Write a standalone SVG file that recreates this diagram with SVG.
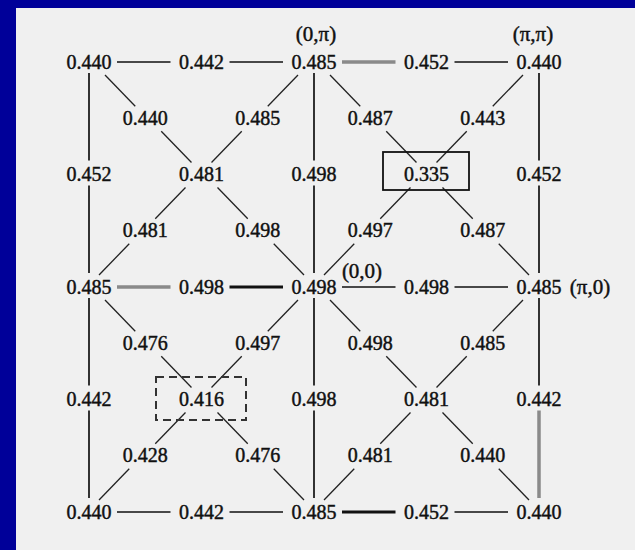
<svg xmlns="http://www.w3.org/2000/svg" width="635" height="550" viewBox="0 0 635 550">
<style>
.n{font-family:"Liberation Serif","Times New Roman",serif;font-size:20px;fill:#111;stroke:#111;stroke-width:0.45;text-anchor:middle}
.lb{font-family:"Liberation Serif","Times New Roman",serif;font-size:21px;fill:#111;stroke:#111;stroke-width:0.45;text-anchor:middle}
.e{stroke:#111;stroke-width:1.7;fill:none}
.g{stroke:#8a8a8a;stroke-width:3.5;fill:none}
.k{stroke:#111;stroke-width:3;fill:none}
.d{stroke:#222;stroke-width:1.3;fill:none}
</style>
<rect x="0" y="0" width="635" height="550" fill="#000099"/>
<rect x="16" y="8" width="619" height="542" fill="#f0f0f0"/>
<g id="connectors">
<line class="e" x1="117" y1="62" x2="170.5" y2="62"/>
<line class="e" x1="229.5" y1="62" x2="283" y2="62"/>
<line class="g" x1="342" y1="62" x2="395.5" y2="62"/>
<line class="e" x1="454.5" y1="62" x2="508" y2="62"/>
<line class="g" x1="117" y1="287" x2="170.5" y2="287"/>
<line class="k" x1="229.5" y1="287" x2="283" y2="287"/>
<line class="e" x1="342" y1="287" x2="395.5" y2="287"/>
<line class="e" x1="454.5" y1="287" x2="508" y2="287"/>
<line class="e" x1="117" y1="512" x2="170.5" y2="512"/>
<line class="e" x1="229.5" y1="512" x2="283" y2="512"/>
<line class="k" x1="342" y1="512" x2="395.5" y2="512"/>
<line class="e" x1="454.5" y1="512" x2="508" y2="512"/>
<line class="e" x1="89" y1="73" x2="89" y2="160.5"/>
<line class="e" x1="89" y1="185.5" x2="89" y2="273"/>
<line class="e" x1="89" y1="298" x2="89" y2="385.5"/>
<line class="e" x1="89" y1="410.5" x2="89" y2="498"/>
<line class="e" x1="314" y1="73" x2="314" y2="160.5"/>
<line class="e" x1="314" y1="185.5" x2="314" y2="273"/>
<line class="e" x1="314" y1="298" x2="314" y2="385.5"/>
<line class="e" x1="314" y1="410.5" x2="314" y2="498"/>
<line class="e" x1="539" y1="73" x2="539" y2="160.5"/>
<line class="e" x1="539" y1="185.5" x2="539" y2="273"/>
<line class="e" x1="539" y1="298" x2="539" y2="385.5"/>
<line class="g" x1="539" y1="410.5" x2="539" y2="498"/>
<line class="d" x1="105" y1="75" x2="135.25" y2="106.25"/>
<line class="d" x1="161.25" y1="131.25" x2="191.5" y2="162.5"/>
<line class="d" x1="217.5" y1="187.5" x2="247.75" y2="218.75"/>
<line class="d" x1="273.75" y1="243.75" x2="304" y2="275"/>
<line class="d" x1="298" y1="75" x2="267.75" y2="106.25"/>
<line class="d" x1="241.75" y1="131.25" x2="211.5" y2="162.5"/>
<line class="d" x1="185.5" y1="187.5" x2="155.25" y2="218.75"/>
<line class="d" x1="129.25" y1="243.75" x2="99" y2="275"/>
<line class="d" x1="330" y1="75" x2="360.25" y2="106.25"/>
<line class="d" x1="386.25" y1="131.25" x2="416.5" y2="162.5"/>
<line class="d" x1="442.5" y1="187.5" x2="472.75" y2="218.75"/>
<line class="d" x1="498.75" y1="243.75" x2="529" y2="275"/>
<line class="d" x1="523" y1="75" x2="492.75" y2="106.25"/>
<line class="d" x1="466.75" y1="131.25" x2="436.5" y2="162.5"/>
<line class="d" x1="410.5" y1="187.5" x2="380.25" y2="218.75"/>
<line class="d" x1="354.25" y1="243.75" x2="324" y2="275"/>
<line class="d" x1="105" y1="300" x2="135.25" y2="331.25"/>
<line class="d" x1="161.25" y1="356.25" x2="191.5" y2="387.5"/>
<line class="d" x1="217.5" y1="412.5" x2="247.75" y2="443.75"/>
<line class="d" x1="273.75" y1="468.75" x2="304" y2="500"/>
<line class="d" x1="298" y1="300" x2="267.75" y2="331.25"/>
<line class="d" x1="241.75" y1="356.25" x2="211.5" y2="387.5"/>
<line class="d" x1="185.5" y1="412.5" x2="155.25" y2="443.75"/>
<line class="d" x1="129.25" y1="468.75" x2="99" y2="500"/>
<line class="d" x1="330" y1="300" x2="360.25" y2="331.25"/>
<line class="d" x1="386.25" y1="356.25" x2="416.5" y2="387.5"/>
<line class="d" x1="442.5" y1="412.5" x2="472.75" y2="443.75"/>
<line class="d" x1="498.75" y1="468.75" x2="529" y2="500"/>
<line class="d" x1="523" y1="300" x2="492.75" y2="331.25"/>
<line class="d" x1="466.75" y1="356.25" x2="436.5" y2="387.5"/>
<line class="d" x1="410.5" y1="412.5" x2="380.25" y2="443.75"/>
<line class="d" x1="354.25" y1="468.75" x2="324" y2="500"/>
</g>
<g id="n00"><text class="n" x="89" y="68.5">0.440</text></g>
<g id="n20"><text class="n" x="201.5" y="68.5">0.442</text></g>
<g id="n40"><text class="lb" x="316" y="41">(0,π)</text><text class="n" x="314" y="68.5">0.485</text></g>
<g id="n60"><text class="n" x="426.5" y="68.5">0.452</text></g>
<g id="n80"><text class="lb" x="533" y="41">(π,π)</text><text class="n" x="539" y="68.5">0.440</text></g>
<g id="n11"><text class="n" x="145.25" y="124.75">0.440</text></g>
<g id="n31"><text class="n" x="257.75" y="124.75">0.485</text></g>
<g id="n51"><text class="n" x="370.25" y="124.75">0.487</text></g>
<g id="n71"><text class="n" x="482.75" y="124.75">0.443</text></g>
<g id="n02"><text class="n" x="89" y="181">0.452</text></g>
<g id="n22"><text class="n" x="201.5" y="181">0.481</text></g>
<g id="n42"><text class="n" x="314" y="181">0.498</text></g>
<g id="n62"><rect x="383" y="152" width="86" height="38" fill="none" stroke="#111" stroke-width="1.8"/><text class="n" x="426.5" y="181">0.335</text></g>
<g id="n82"><text class="n" x="539" y="181">0.452</text></g>
<g id="n13"><text class="n" x="145.25" y="237.25">0.481</text></g>
<g id="n33"><text class="n" x="257.75" y="237.25">0.498</text></g>
<g id="n53"><text class="n" x="370.25" y="237.25">0.497</text></g>
<g id="n73"><text class="n" x="482.75" y="237.25">0.487</text></g>
<g id="n04"><text class="n" x="89" y="293.5">0.485</text></g>
<g id="n24"><text class="n" x="201.5" y="293.5">0.498</text></g>
<g id="n44"><text class="lb" x="362" y="278">(0,0)</text><text class="n" x="314" y="293.5">0.498</text></g>
<g id="n64"><text class="n" x="426.5" y="293.5">0.498</text></g>
<g id="n84"><text class="n" x="539" y="293.5">0.485</text><text class="lb" x="590" y="294">(π,0)</text></g>
<g id="n15"><text class="n" x="145.25" y="349.75">0.476</text></g>
<g id="n35"><text class="n" x="257.75" y="349.75">0.497</text></g>
<g id="n55"><text class="n" x="370.25" y="349.75">0.498</text></g>
<g id="n75"><text class="n" x="482.75" y="349.75">0.485</text></g>
<g id="n06"><text class="n" x="89" y="406">0.442</text></g>
<g id="n26"><rect x="156" y="377" width="90" height="43" fill="none" stroke="#333" stroke-width="2" stroke-dasharray="8,5"/><text class="n" x="201.5" y="406">0.416</text></g>
<g id="n46"><text class="n" x="314" y="406">0.498</text></g>
<g id="n66"><text class="n" x="426.5" y="406">0.481</text></g>
<g id="n86"><text class="n" x="539" y="406">0.442</text></g>
<g id="n17"><text class="n" x="145.25" y="462.25">0.428</text></g>
<g id="n37"><text class="n" x="257.75" y="462.25">0.476</text></g>
<g id="n57"><text class="n" x="370.25" y="462.25">0.481</text></g>
<g id="n77"><text class="n" x="482.75" y="462.25">0.440</text></g>
<g id="n08"><text class="n" x="89" y="518.5">0.440</text></g>
<g id="n28"><text class="n" x="201.5" y="518.5">0.442</text></g>
<g id="n48"><text class="n" x="314" y="518.5">0.485</text></g>
<g id="n68"><text class="n" x="426.5" y="518.5">0.452</text></g>
<g id="n88"><text class="n" x="539" y="518.5">0.440</text></g>
</svg>
